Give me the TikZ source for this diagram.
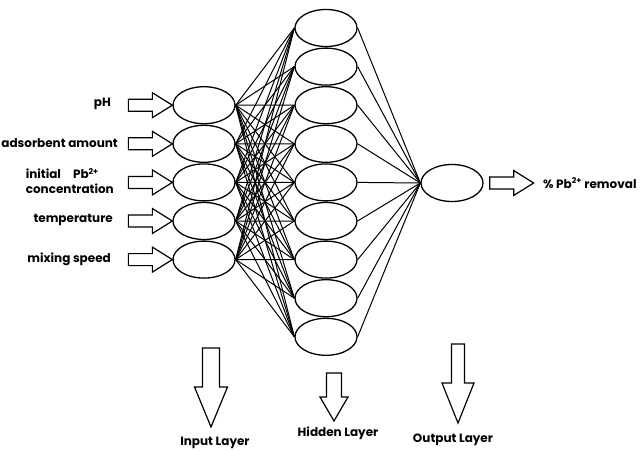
\documentclass[tikz,border=0pt]{standalone}
\usepackage{fontspec}
\setmainfont{Poppins}
\usetikzlibrary{shapes.geometric,calc}
\tikzset{
  neuron/.style={draw, ellipse, line width=1.3pt, minimum width=62pt, minimum height=37pt, inner sep=0pt},
  conn/.style={line width=1pt},
  blockarr/.style={draw, line width=1.2pt, fill=white, line join=miter},
  lab/.style={font=\bfseries\fontsize{12}{15}\selectfont, inner sep=0pt},
  pics/rarrow/.style={code={\draw[blockarr] (-44,-6) -- (-20,-6) -- (-20,-12.5) -- (0,0) -- (-20,12.5) -- (-20,6) -- (-44,6) -- cycle;}},
  pics/dnarrow/.style n args={4}{code={\draw[blockarr] (-#1,0) -- (#1,0) -- (#1,#3-#4) -- (#2,#3-#4) -- (0,#3) -- (-#2,#3-#4) -- (-#1,#3-#4) -- cycle;}}
}
\begin{document}
\begin{tikzpicture}[x=1pt,y=-1pt]
\useasboundingbox (0,0) rectangle (640,450);
% hidden layer
\foreach \i in {1,...,9} \node[neuron] (h\i) at (326,{28+38.6*(\i-1)}) {};
% input layer
\foreach \i in {1,...,5} \node[neuron] (i\i) at (204,{105.2+38.6*(\i-1)}) {};
% output
\node[neuron] (o) at (452,183) {};
% connections
\foreach \i in {1,...,5} \foreach \j in {1,...,9} \draw[conn] (i\i.east) -- (h\j.west);
\foreach \j in {1,...,9} \draw[conn] (h\j.east) -- (o.west);
% input arrows
\foreach \i in {1,...,5} \pic at (i\i.west) {rarrow};
\pic at ($(o.east)+(50,0)$) {rarrow};
% labels
\node[lab, anchor=east] (lph) at (111,104) {pH};
\node[lab, anchor=east] (lad) at (118,143) {adsorbent amount};
\node[lab, anchor=east, align=left] (lin) at (114,181) {initial\quad Pb\textsuperscript{2+}\\concentration};
\node[lab, anchor=east] (lte) at (113,220) {temperature};
\node[lab, anchor=east] (lmi) at (111,259) {mixing speed};
\node[lab, anchor=west] (lout) at (543,183) {\% Pb\textsuperscript{2+} removal};
% layer arrows
\pic at (211,348) {dnarrow={8.5}{16.5}{79}{40}};
\pic at (334,373) {dnarrow={7.5}{14}{48}{24}};
\pic at (458,344) {dnarrow={6.5}{16}{79}{40}};
\node[lab] (lil) at (215,443) {Input Layer};
\node[lab] (lhl) at (338,433) {Hidden Layer};
\node[lab] (lol) at (453,440) {Output Layer};
\end{tikzpicture}
\end{document}
